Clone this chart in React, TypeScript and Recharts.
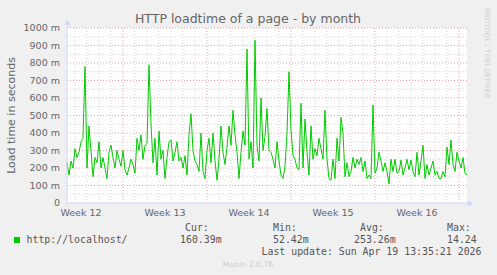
import { LineChart, Line, XAxis, YAxis, CartesianGrid, ReferenceLine } from "recharts"

// load time in ms, one sample every 4 hours
const loadtime = [
  230, 160, 240, 200, 310, 260, 290, 350, 370, 780,
  200, 440, 300, 150, 260, 230, 350, 200, 260, 200,
  140, 290, 330, 260, 200, 300, 250, 210, 300, 190,
  160, 200, 250, 220, 170, 370, 300, 390, 250, 330,
  340, 790, 450, 230, 370, 160, 410, 250, 300, 140,
  260, 350,
  360, 240, 290, 350, 240, 260, 200, 270, 160, 390,
  510, 300, 240, 220, 180, 400, 180, 140, 300, 370,
  230, 400, 240, 130, 250, 440, 290, 220, 320, 440,
  330, 530, 390, 290, 140, 290, 410, 330, 880, 250,
  350, 200, 930, 330, 240, 600, 300, 380, 540, 300,
  290, 250, 200, 350, 240, 160, 140, 210, 400, 750,
  420, 270, 250, 200, 190, 570, 200, 480, 290, 160,
  440, 250, 310, 270, 370, 310, 250, 530, 250, 140,
  130, 250, 140, 370, 240, 490, 400, 150, 230, 150,
  180, 260, 200, 250, 220, 260, 180, 240, 140, 160,
  140, 560, 170, 200, 290, 240, 180, 230, 180, 110,
  250, 180, 250, 170, 180, 245, 160, 200, 250, 190,
  245, 180, 150, 290, 160, 240, 330, 140, 220, 160,
  200, 240, 160, 180, 140, 140, 180, 150, 320, 220,
  360, 220, 180, 290, 240, 200, 260, 170, 160,
]
const hourStep = 4

const weekLabelHours = [28, 196, 364, 532, 700]
const weekLabels = ["Week 12", "Week 13", "Week 14", "Week 15", "Week 16"]
const weekStarts = [112, 280, 448, 616, 784]
const dayLines = Array.from({ length: 33 }, (_, k) => 16 + 24 * k).filter(
  (h) => !weekStarts.includes(h)
)

const yTicks = [0, 100, 200, 300, 400, 500, 600, 700, 800, 900, 1000]
const yMinor = [50, 150, 250, 350, 450, 550, 650, 750, 850, 950]

const legendName = "http://localhost/"
const stats = [
  { label: "Cur:", value: "160.39m", lx: 185, vx: 180 },
  { label: "Min:", value: "52.42m", lx: 273, vx: 273 },
  { label: "Avg:", value: "253.26m", lx: 360, vx: 354 },
  { label: "Max:", value: "14.24", lx: 447, vx: 447 },
]
const lastUpdate = "Last update: Sun Apr 19 13:35:21 2026"

const data = loadtime.map((v, i) => ({ h: i * hourStep, v }))

const SANS = "DejaVu Sans, sans-serif"
const MONO = "DejaVu Sans Mono, monospace"
const AXIS = "#CFD6F8"
const GRID = "#d2d2d2"
const MGRID = "#f0a4a4"

export default function App() {
  return (
    <div style={{ position: "relative", width: 497, height: 275, background: "#F0F0F0", fontFamily: SANS }}>
      <style>{"body{margin:0}"}</style>
      <LineChart
        width={497}
        height={275}
        data={data}
        margin={{ top: 28, right: 30, bottom: 52, left: 17 }}
      >
        <CartesianGrid fill="#ffffff" horizontal={false} vertical={false} />
        {yMinor.map((y) => (
          <ReferenceLine key={`ym${y}`} y={y} stroke={GRID} strokeDasharray="1 2" />
        ))}
        {dayLines.map((h) => (
          <ReferenceLine key={`d${h}`} x={h} stroke={GRID} strokeDasharray="1 2" />
        ))}
        {yTicks.filter((y) => y > 0).map((y) => (
          <ReferenceLine key={`y${y}`} y={y} stroke={MGRID} strokeDasharray="1 2" />
        ))}
        {weekStarts.map((h) => (
          <ReferenceLine key={`w${h}`} x={h} stroke={MGRID} strokeDasharray="1 2" />
        ))}
        <XAxis
          dataKey="h"
          type="number"
          domain={[0, 800]}
          ticks={weekLabelHours}
          tickFormatter={(h) => weekLabels[weekLabelHours.indexOf(h)]}
          height={20}
          tickLine={false}
          tickSize={0}
          tickMargin={6}
          axisLine={{ stroke: AXIS }}
          tick={{ fill: "#666", fontSize: 9.5, fontFamily: SANS }}
          interval={0}
        />
        <YAxis
          type="number"
          domain={[0, 1000]}
          ticks={yTicks}
          tickFormatter={(v) => (v === 0 ? "0" : `${v} m`)}
          width={50}
          tickLine={false}
          tickSize={0}
          tickMargin={7}
          axisLine={{ stroke: AXIS }}
          tick={{ fill: "#666", fontSize: 9.5, fontFamily: SANS }}
          interval={0}
        />
        <Line
          type="linear"
          dataKey="v"
          stroke="#00CC00"
          strokeWidth={1}
          dot={false}
          isAnimationActive={false}
        />
      </LineChart>
      <svg
        width={497}
        height={275}
        style={{ position: "absolute", left: 0, top: 0, pointerEvents: "none" }}
      >
        <text x={248} y={23} textAnchor="middle" fontSize={12.5} fill="#666" fontFamily={SANS}>
          HTTP loadtime of a page - by month
        </text>
        <text
          x={0}
          y={0}
          transform="translate(15 115.5) rotate(-90)"
          textAnchor="middle"
          fontSize={11}
          fill="#666"
          fontFamily={SANS}
        >
          Load time in seconds
        </text>
        <text
          x={0}
          y={0}
          transform="translate(485 53) rotate(90)"
          textAnchor="middle"
          fontSize={7}
          fill="#cfcfcf"
          fontFamily={SANS}
        >
          RRDTOOL / TOBI OETIKER
        </text>
        <line x1={67.5} y1={24} x2={67.5} y2={28} stroke={AXIS} />
        <polygon points="64.5,25 70.5,25 67.5,20" fill={AXIS} />
        <line x1={467} y1={203.5} x2={469} y2={203.5} stroke={AXIS} />
        <polygon points="468,200.5 468,206.5 473,203.5" fill={AXIS} />
        <rect x={14} y={237} width={6} height={6} fill="#00CC00" />
        <text x={26.5} y={239.5} dominantBaseline="central" fontSize={9.9} fill="#555" fontFamily={MONO}>
          {legendName}
        </text>
        {stats.map((s) => (
          <g key={s.label}>
            <text x={s.lx} y={227} dominantBaseline="central" fontSize={9.9} fill="#555" fontFamily={MONO}>
              {s.label}
            </text>
            <text x={s.vx} y={239.5} dominantBaseline="central" fontSize={9.9} fill="#555" fontFamily={MONO}>
              {s.value}
            </text>
          </g>
        ))}
        <text x={261.5} y={251.5} dominantBaseline="central" fontSize={9.9} fill="#555" fontFamily={MONO}>
          {lastUpdate}
        </text>
        <text x={248} y={264} textAnchor="middle" dominantBaseline="central" fontSize={7.7} fill="#cccccc" fontFamily={SANS}>
          Munin 2.0.76
        </text>
      </svg>
    </div>
  )
}
